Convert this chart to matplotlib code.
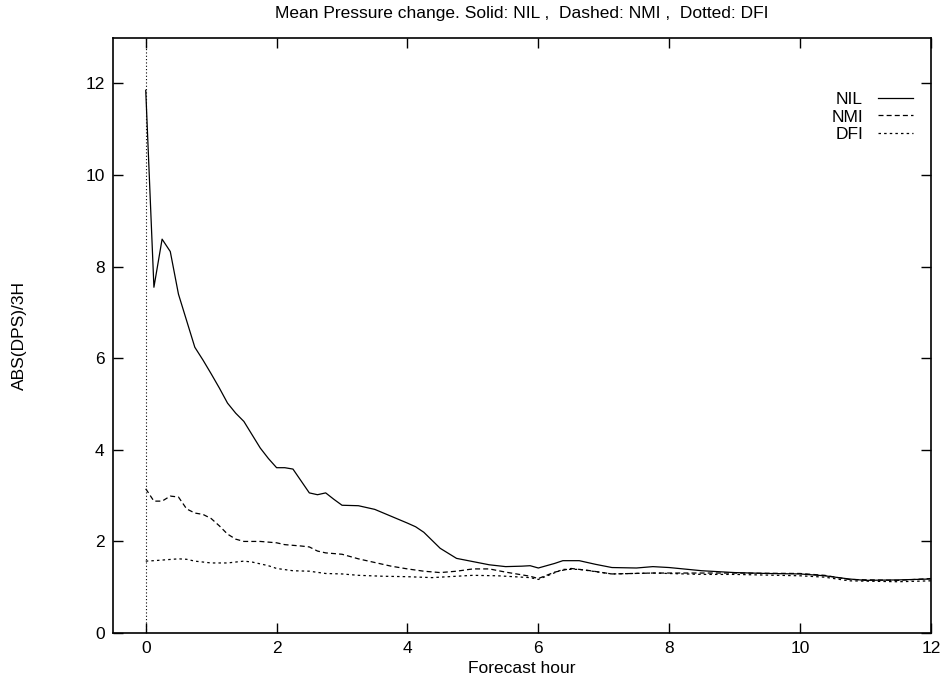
from matplotlib import pyplot as plt

# forecast hours and values
nil_hours = [0, 0.125, 0.25, 0.375, 0.5, 0.625, 0.75, 0.875, 1.0, 1.125, 1.25,
             1.375, 1.5, 1.625, 1.75, 1.875, 2.0, 2.125, 2.25, 2.375, 2.5,
             2.625, 2.75, 2.875, 3.0, 3.25, 3.5, 3.75, 4.0, 4.125, 4.25, 4.5,
             4.75, 5.0, 5.25, 5.5, 5.75, 5.875, 6.0, 6.25, 6.375, 6.625,
             6.875, 7.125, 7.5, 7.75, 8.0, 8.5, 9.0, 9.5, 10.0, 10.375, 10.75,
             11.0, 11.5, 12.0]
nil_vals = [11.85, 7.55, 8.6, 8.33, 7.4, 6.82, 6.24, 5.96, 5.66, 5.35, 5.02,
            4.8, 4.62, 4.33, 4.04, 3.81, 3.61, 3.61, 3.58, 3.32, 3.06, 3.02,
            3.06, 2.92, 2.79, 2.78, 2.70, 2.55, 2.40, 2.32, 2.20, 1.85, 1.63,
            1.56, 1.49, 1.45, 1.46, 1.47, 1.42, 1.52, 1.58, 1.58, 1.50, 1.43,
            1.42, 1.45, 1.43, 1.36, 1.32, 1.30, 1.29, 1.25, 1.18, 1.15, 1.16,
            1.18]

nmi_hours = [0, 0.125, 0.25, 0.375, 0.5, 0.625, 0.75, 0.875, 1.0, 1.125, 1.25,
             1.375, 1.5, 1.75, 2.0, 2.125, 2.375, 2.5, 2.625, 2.75, 3.0, 3.25,
             3.5, 3.75, 4.0, 4.25, 4.5, 4.75, 5.0, 5.25, 5.5, 5.875, 6.0,
             6.25, 6.5, 6.75, 7.125, 7.75, 8.0, 9.0, 10.0, 10.375, 10.75,
             11.5, 12.0]
nmi_vals = [3.15, 2.88, 2.88, 2.99, 2.97, 2.71, 2.62, 2.59, 2.50, 2.34, 2.16,
            2.05, 2.00, 2.00, 1.97, 1.93, 1.90, 1.88, 1.79, 1.75, 1.72, 1.62,
            1.54, 1.46, 1.40, 1.35, 1.32, 1.35, 1.40, 1.40, 1.33, 1.24, 1.19,
            1.33, 1.41, 1.37, 1.29, 1.31, 1.31, 1.31, 1.30, 1.26, 1.17, 1.15,
            1.19]

dfi_hours = [0, 0.125, 0.5, 0.625, 0.75, 1.0, 1.25, 1.5, 1.625, 1.875, 2.0,
             2.25, 2.5, 2.75, 3.0, 3.25, 3.625, 4.0, 4.375, 4.75, 5.0, 5.375,
             5.875, 6.0, 6.375, 6.625, 7.125, 7.75, 8.5, 9.0, 10.0, 10.375,
             10.75, 11.5, 12.0]
dfi_vals = [1.57, 1.58, 1.62, 1.61, 1.57, 1.53, 1.53, 1.57, 1.55, 1.47, 1.41,
            1.36, 1.35, 1.30, 1.29, 1.26, 1.24, 1.23, 1.21, 1.24, 1.26, 1.25,
            1.21, 1.17, 1.39, 1.39, 1.29, 1.31, 1.28, 1.28, 1.25, 1.22, 1.14,
            1.12, 1.14]

x_ticks = [0, 2, 4, 6, 8, 10, 12]
y_ticks = [0, 2, 4, 6, 8, 10, 12]

plt.rcParams["font.family"] = ["Liberation Sans", "DejaVu Sans"]
fs = 12.5

fig = plt.figure(figsize=(9.45, 6.82), dpi=100)
ax = fig.add_axes([0.1196, 0.0718, 0.8655, 0.8730])

lw = 0.9
ax.axvline(0, color="black", lw=0.8, linestyle=(0, (1, 2)))
ax.plot(nil_hours, nil_vals, color="black", lw=lw, label="NIL")
ax.plot(nmi_hours, nmi_vals, color="black", lw=lw, linestyle=(0, (4, 2.5)),
        label="NMI")
ax.plot(dfi_hours, dfi_vals, color="black", lw=lw, linestyle=(0, (2, 2.5)),
        label="DFI")

ax.set_xlim(-0.5, 12)
ax.set_ylim(0, 13)
ax.set_xticks(x_ticks)
ax.set_yticks(y_ticks)
ax.tick_params(direction="in", length=7, width=1, top=True, right=True,
               labelsize=fs, pad=6)
for sp in ax.spines.values():
    sp.set_linewidth(1.2)

ax.set_xlabel("Forecast hour", fontsize=fs, labelpad=3)
ax.set_ylabel("ABS(DPS)/3H", fontsize=fs, labelpad=42)
ax.set_title("Mean Pressure change. Solid: NIL ,  Dashed: NMI ,  Dotted: DFI",
             fontsize=fs, pad=14)

ax.legend(loc="upper right", bbox_to_anchor=(0.986, 0.921), frameon=False,
          markerfirst=False, handlelength=2.0, handletextpad=0.85,
          labelspacing=0.15, borderaxespad=0.0, fontsize=fs)

fig.savefig("out.png", dpi=100)
